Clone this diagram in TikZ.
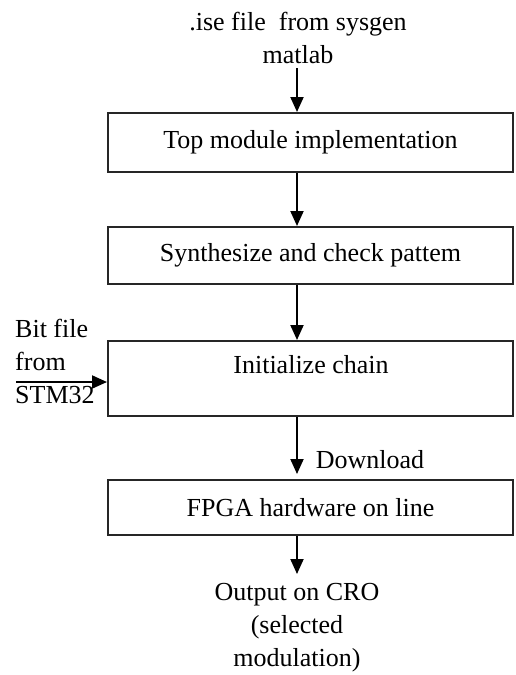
\documentclass[tikz,border=0pt]{standalone}
\usepackage{fontspec}
\setmainfont{Liberation Serif}
\usetikzlibrary{arrows.meta}

\begin{document}
\begin{tikzpicture}[x=1pt, y=-1pt,
  every node/.style={font=\fontsize{26}{33}\selectfont, text=black},
  stepbox/.style={draw=black!85, line width=2pt, rectangle,
    minimum width=405pt, inner sep=0pt},
  flow/.style={draw=black, line width=2pt,
    -{Triangle[length=15pt, width=13pt]}},
  note/.style={align=center, inner sep=0pt}]
  % canvas
  \useasboundingbox (0,0) rectangle (515,675);

  % axis along which the main flow runs
  \coordinate (ax) at (297,0);

  % source text
  \node[note] (src) at (298,38) {.ise file\ \ from sysgen\\matlab};

  % processing steps
  \node[stepbox, minimum height=59pt] (top) at (310.5,142.5) {Top module implementation};
  \node[stepbox, minimum height=57pt] (syn) at (310.5,255.5) {Synthesize and check pattem};
  \node[stepbox, minimum height=75pt] (init) at (310.5,378.5) {};
  \node[inner sep=0pt] (initlbl) at (311,365) {Initialize chain};
  \node[stepbox, minimum height=55pt] (fpga) at (310.5,507.5) {FPGA hardware on line};

  % side input
  \node[align=left, inner sep=0pt, anchor=west] (bit) at (15,361)
    {Bit file\\from\\STM32};
  \coordinate (bitin) at (16,382);

  % result text
  \node[note] (out) at (297,628) {Output on CRO\\(selected\\modulation)};

  % helper points for the arrow ends
  \coordinate (srcend) at (297,68);
  \coordinate (dlend) at (297,474);
  \coordinate (outend) at (297,574);

  % connectors
  \draw[flow] (srcend) -- (top.north -| ax);
  \draw[flow] (top.south -| ax) -- (syn.north -| ax);
  \draw[flow] (syn.south -| ax) -- (init.north -| ax);
  \draw[flow] (bitin) -- (init.west |- bitin);
  \draw[flow] (init.south -| ax) -- (dlend);
  \draw[flow] (fpga.south -| ax) -- (outend);

  % connector label
  \node[inner sep=0pt] (dl) at (370,460) {Download};
\end{tikzpicture}
\end{document}
